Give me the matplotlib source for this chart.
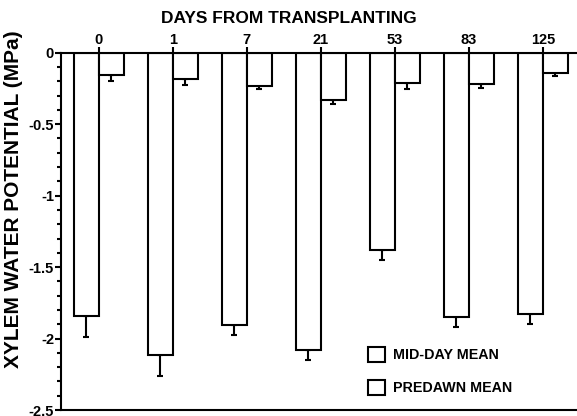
import matplotlib
matplotlib.use("Agg")
import matplotlib.pyplot as plt
from matplotlib.patches import Patch
from matplotlib.ticker import MultipleLocator
import numpy as np

# ── Data ─────────────────────────────────────────────────────────────────────
days          = ["0", "1", "7", "21", "53", "83", "125"]
midday_mean   = [-1.84, -2.115, -1.905, -2.08, -1.38, -1.85, -1.825]
midday_err    = [0.15, 0.145, 0.07, 0.07, 0.07, 0.07, 0.075]
predawn_mean  = [-0.156, -0.184, -0.23, -0.33, -0.214, -0.219, -0.14]
predawn_err   = [0.045, 0.045, 0.024, 0.03, 0.04, 0.031, 0.02]
legend_labels = ["MID-DAY MEAN", "PREDAWN MEAN"]

plt.rcParams["font.family"] = ["Liberation Sans", "DejaVu Sans"]
plt.rcParams["font.weight"] = "bold"
plt.rcParams["axes.unicode_minus"] = False

W = 0.338   # bar width in category units
LW = 1.5

fig = plt.figure(figsize=(5.77, 4.16), dpi=100)
ax = fig.add_axes([0.1057, 0.0144, 1 - 0.1057, 0.8589])

x = np.arange(len(days))
ax.bar(x - W / 2, midday_mean, W, color="white", edgecolor="black",
       linewidth=LW, zorder=2)
ax.bar(x + W / 2, predawn_mean, W, color="white", edgecolor="black",
       linewidth=LW, zorder=2)

zeros = np.zeros(len(days))
ax.errorbar(x - W / 2, midday_mean, yerr=[midday_err, zeros], fmt="none",
            ecolor="black", elinewidth=LW, capsize=2.5, capthick=LW, zorder=1)
ax.errorbar(x + W / 2, predawn_mean, yerr=[predawn_err, zeros], fmt="none",
            ecolor="black", elinewidth=LW, capsize=2.5, capthick=LW, zorder=1)

ax.set_xlim(-0.51, 6.46)
ax.set_ylim(-2.5, 0)

ax.xaxis.tick_top()
ax.xaxis.set_label_position("top")
ax.set_xticks(x)
ax.set_xticklabels(days, fontsize=10.5, fontweight="bold")
ax.tick_params(axis="x", direction="out", length=4, width=LW, pad=0)
ax.set_xlabel("DAYS FROM TRANSPLANTING", fontsize=12.5, fontweight="bold")
ax.xaxis.set_label_coords(0.442, 1.084)

ax.yaxis.set_major_locator(MultipleLocator(0.5))
ax.yaxis.set_minor_locator(MultipleLocator(0.1))
ax.set_yticks([0, -0.5, -1, -1.5, -2, -2.5])
ax.set_yticklabels(["0", "-0.5", "-1", "-1.5", "-2", "-2.5"],
                   fontsize=10.5, fontweight="bold")
ax.tick_params(axis="y", which="major", direction="out", length=4, width=LW, pad=1)
ax.tick_params(axis="y", which="minor", direction="out", length=3, width=LW)
ax.set_ylabel("XYLEM WATER POTENTIAL (MPa)", fontsize=15, fontweight="bold")
ax.yaxis.set_label_coords(-0.074, 0.591)

for side in ["top", "bottom", "left"]:
    ax.spines[side].set_linewidth(LW)
ax.spines["right"].set_visible(False)

handles = [Patch(facecolor="white", edgecolor="black", linewidth=LW)
           for _ in legend_labels]
leg = ax.legend(handles, legend_labels, loc="upper left",
                bbox_to_anchor=(0.581, 0.196), frameon=False, borderpad=0,
                fontsize=10.3, handlelength=1.2, handleheight=1.2,
                handletextpad=0.55, labelspacing=1.24)
for t in leg.get_texts():
    t.set_fontweight("bold")

fig.savefig("out.png", dpi=100)
